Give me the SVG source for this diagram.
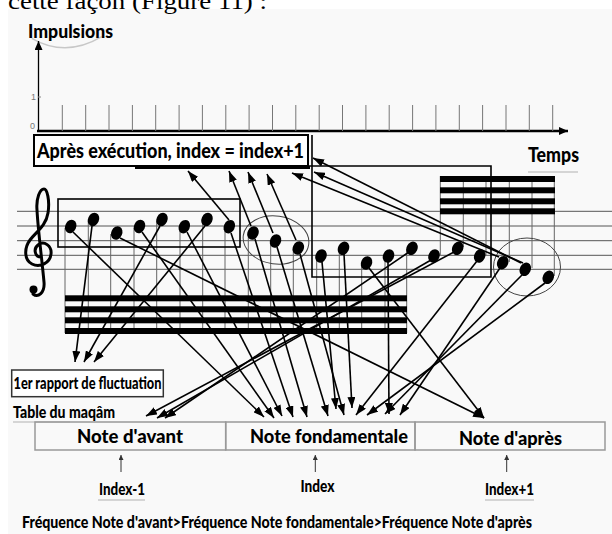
<svg xmlns="http://www.w3.org/2000/svg" width="612" height="534" viewBox="0 0 612 534">
<style>
.t{font-family:Lato,"Open Sans","Liberation Sans",sans-serif;font-weight:900;fill:#000}
.ax{stroke:#000;fill:none}
.tick{stroke:#777;stroke-width:1;fill:none}
.staff{stroke:#555;stroke-width:1;fill:none}
.stem{stroke:#666;stroke-width:1;fill:none}
.beam{fill:#000}
.box{fill:none;stroke:#000;stroke-width:1.6}
.cell{fill:none;stroke:#999;stroke-width:1.5}
.ell{fill:none;stroke:#444;stroke-width:1}
.nh{fill:#000}
.con line{stroke:#000;stroke-width:1.6;marker-end:url(#ah)}
.sm{stroke:#333;stroke-width:1;marker-end:url(#ahs)}
.ul{stroke:#c8c8c8;stroke-width:1.5;fill:none}
</style>
<defs>
<marker id="ah" markerWidth="11" markerHeight="8" refX="11" refY="4" orient="auto" markerUnits="userSpaceOnUse"><path d="M0,0 L11,4 L0,8 z" fill="#000"/></marker>
<marker id="ahs" markerWidth="5" markerHeight="5" refX="5" refY="2.5" orient="auto" markerUnits="userSpaceOnUse"><path d="M0,0 L5,2.5 L0,5 z" fill="#333"/></marker>
<marker id="aax" markerWidth="9" markerHeight="8" refX="9" refY="4" orient="auto" markerUnits="userSpaceOnUse"><path d="M0,0 L9,4 L0,8 z" fill="#000"/></marker>
</defs>
<rect x="0" y="0" width="612" height="534" fill="#fff"/>
<rect x="8" y="9" width="604" height="525" fill="#f9f9f9"/>

<g id="caption-top">
<text x="8" y="9" font-family="'Liberation Serif',serif" font-size="24" textLength="259" lengthAdjust="spacingAndGlyphs">cette façon (Figure 11) :</text>
</g>

<g id="axes">
<path class="ul" d="M31.7 38.3 Q66 58 101.7 36.7" stroke="#bbb"/>
<text class="t" x="28" y="38" font-size="18" textLength="85" lengthAdjust="spacingAndGlyphs">Impulsions</text>
<line class="ax" x1="38.5" y1="131" x2="38.5" y2="41" stroke-width="1.3" marker-end="url(#aax)"/>
<line class="ax" x1="37" y1="131" x2="568" y2="131" stroke-width="2.5" marker-end="url(#aax)"/>
<line x1="38" y1="97" x2="41" y2="97" stroke="#888"/>
<text x="31" y="100" font-family="'Liberation Sans',sans-serif" font-size="9" fill="#777">1</text>
<text x="30" y="129" font-family="'Liberation Sans',sans-serif" font-size="9" fill="#777">0</text>
<path class="tick" d="M62.3 105V131M85.7 105V131M109 105V131M132.4 105V131M155.7 105V131M179.1 105V131M202.4 105V131M225.8 105V131M249.1 105V131M272.5 105V131M295.8 105V131M319.2 105V131M342.5 105V131M365.9 105V131M389.2 105V131M412.6 105V131M435.9 105V131M459.3 105V131M482.6 105V131M506 105V131M529.3 105V131M552.7 105V131"/>
<text class="t" x="528" y="162" font-size="20" textLength="51" lengthAdjust="spacingAndGlyphs">Temps</text>
<line class="ul" x1="528" y1="172" x2="578" y2="172"/>
</g>

<g id="staff">
<path class="staff" d="M17 211.3H612M17 226H612M17 240.7H612M17 255.3H612M17 269.3H612"/>
<g id="clef">
<path d="M41 257C35 257 33 249 38 245C44 240 52 246 51 254C50 263 40 268 32 264C24 260 24 248 30 240C36 232 46 226 48 213C50 200 47 189 44 189C40 189 36 198 37 210C38 230 42 260 44 282C45 293 38 298 33 294" fill="none" stroke="#000" stroke-width="3" stroke-linecap="round"/>
<circle cx="33.5" cy="289.5" r="4" fill="#000"/>
</g>
</g>

<g id="stems">
<path class="stem" d="M65 228V333M88.3 221V333M110.7 234V333M134 228V333M156.7 221V333M180 228V333M202.7 221V333M225 228V333M248.3 234V333M270.7 242V333M293.3 249V333M316.7 257V333M339.3 249V333M361.7 264V333M385 257V333M406.7 249V333M440.3 255V176M463.3 247V176M486 255V176M509.3 262V176M532 268V176M554.3 276V176"/>
</g>

<g id="beams-low">
<rect class="beam" x="65" y="295.3" width="342" height="6"/>
<rect class="beam" x="65" y="306.3" width="342" height="6"/>
<rect class="beam" x="65" y="317.3" width="342" height="6"/>
<rect class="beam" x="65" y="328" width="342" height="6"/>
</g>
<g id="beams-high">
<rect class="beam" x="440" y="176" width="115" height="6"/>
<rect class="beam" x="440" y="187.3" width="115" height="6"/>
<rect class="beam" x="440" y="198.3" width="115" height="6"/>
<rect class="beam" x="440" y="208.3" width="115" height="6"/>
</g>

<g id="group1-box"><rect class="box" x="58" y="199" width="182" height="48"/></g>
<g id="group-ellipse1"><ellipse class="ell" cx="276" cy="240" rx="33" ry="24" transform="rotate(8 276 240)"/></g>
<g id="group2-box"><path class="box" d="M312 135V277H491V166H308" stroke-width="2"/></g>
<g id="group-ellipse2"><ellipse class="ell" cx="527" cy="267" rx="33.5" ry="29"/></g>

<g id="apres-box">
<rect x="34" y="135" width="274" height="31" fill="#fff" stroke="#000" stroke-width="2"/>
<line x1="135" y1="167.5" x2="310" y2="167.5" stroke="#000" stroke-width="3"/>
<text class="t" x="37" y="158" font-size="21" textLength="267" lengthAdjust="spacingAndGlyphs">Après exécution, index = index+1</text>
</g>

<g id="rapport-box">
<rect x="11.7" y="370" width="151.6" height="26.7" fill="#fff" stroke="#333" stroke-width="1.5"/>
<text class="t" x="13.5" y="388.5" font-size="16" textLength="148" lengthAdjust="spacingAndGlyphs">1er rapport de fluctuation</text>
</g>

<g id="table">
<text class="t" x="13" y="418" font-size="16" textLength="102" lengthAdjust="spacingAndGlyphs">Table du maqâm</text>
<line class="ul" x1="13" y1="422" x2="70" y2="422"/>
<g id="cell-avant">
<rect class="cell" x="35" y="422" width="190.7" height="28"/>
<text class="t" x="77" y="443" font-size="19" textLength="106" lengthAdjust="spacingAndGlyphs">Note d'avant</text>
</g>
<g id="cell-fondamentale">
<rect class="cell" x="225.7" y="422" width="189.3" height="28"/>
<text class="t" x="250" y="443" font-size="19" textLength="158" lengthAdjust="spacingAndGlyphs">Note fondamentale</text>
</g>
<g id="cell-apres">
<rect class="cell" x="415" y="422" width="190" height="28"/>
<text class="t" x="459" y="445" font-size="19" textLength="103" lengthAdjust="spacingAndGlyphs">Note d'après</text>
</g>
</g>

<g id="index-labels">
<line class="sm" x1="121" y1="472" x2="121" y2="455"/>
<line class="sm" x1="315.3" y1="472" x2="315.3" y2="455"/>
<line class="sm" x1="506.7" y1="472" x2="506.7" y2="455"/>
<text class="t" x="99" y="495" font-size="16" textLength="46" lengthAdjust="spacingAndGlyphs">Index-1</text>
<text class="t" x="300.5" y="492" font-size="16" textLength="34" lengthAdjust="spacingAndGlyphs">Index</text>
<text class="t" x="485" y="495" font-size="16" textLength="49" lengthAdjust="spacingAndGlyphs">Index+1</text>
<line class="ul" x1="98" y1="500" x2="145" y2="500"/>
<line class="ul" x1="485" y1="500" x2="534" y2="500"/>
</g>

<g id="caption-bottom">
<text class="t" x="22" y="528" font-size="16" textLength="510" lengthAdjust="spacingAndGlyphs">Fréquence Note d'avant&gt;Fréquence Note fondamentale&gt;Fréquence Note d'après</text>
</g>

<g id="connectors" class="con">
<line x1="229" y1="220" x2="188" y2="171"/>
<line x1="251" y1="226" x2="229" y2="171"/>
<line x1="273" y1="233" x2="248" y2="172"/>
<line x1="296" y1="240" x2="267" y2="174"/>
<line x1="499" y1="257" x2="292" y2="173"/>
<line x1="521" y1="263" x2="313" y2="158"/>
<line x1="523" y1="263" x2="314" y2="172"/>
<line x1="73" y1="232" x2="264" y2="417"/>
<line x1="92" y1="226" x2="75" y2="362"/>
<line x1="120" y1="238" x2="484" y2="418"/>
<line x1="142" y1="232" x2="274" y2="418"/>
<line x1="160" y1="226" x2="84" y2="362"/>
<line x1="187" y1="232" x2="282" y2="416"/>
<line x1="205" y1="226" x2="94" y2="362"/>
<line x1="231" y1="233" x2="293" y2="417"/>
<line x1="255" y1="239" x2="307" y2="417"/>
<line x1="277" y1="247" x2="328" y2="416"/>
<line x1="300" y1="254" x2="344" y2="415"/>
<line x1="322" y1="262" x2="336" y2="409"/>
<line x1="344" y1="254" x2="352" y2="408"/>
<line x1="369" y1="268" x2="484" y2="418"/>
<line x1="388" y1="262" x2="389" y2="414"/>
<line x1="409" y1="252" x2="165" y2="418"/>
<line x1="431" y1="260" x2="157" y2="418"/>
<line x1="454" y1="252" x2="146" y2="416"/>
<line x1="477" y1="261" x2="356" y2="415"/>
<line x1="500" y1="268" x2="400" y2="415"/>
<line x1="522" y1="275" x2="385" y2="414"/>
<line x1="545" y1="283" x2="367" y2="415"/>
</g>

<g id="notes">
<g id="note1"><ellipse class="nh" cx="70.7" cy="226.5" rx="5.5" ry="7" transform="rotate(25 70.7 226.5)"/></g>
<g id="note2"><ellipse class="nh" cx="93.5" cy="219.5" rx="5.5" ry="7" transform="rotate(25 93.5 219.5)"/></g>
<g id="note3"><ellipse class="nh" cx="116.7" cy="233" rx="5.5" ry="7" transform="rotate(25 116.7 233)"/></g>
<g id="note4"><ellipse class="nh" cx="139.5" cy="226.5" rx="5.5" ry="7" transform="rotate(25 139.5 226.5)"/></g>
<g id="note5"><ellipse class="nh" cx="162" cy="219.5" rx="5.5" ry="7" transform="rotate(25 162 219.5)"/></g>
<g id="note6"><ellipse class="nh" cx="184.3" cy="226.7" rx="5.5" ry="7" transform="rotate(25 184.3 226.7)"/></g>
<g id="note7"><ellipse class="nh" cx="207" cy="219.5" rx="5.5" ry="7" transform="rotate(25 207 219.5)"/></g>
<g id="note8"><ellipse class="nh" cx="229.3" cy="226.7" rx="5.5" ry="7" transform="rotate(25 229.3 226.7)"/></g>
<g id="note9"><ellipse class="nh" cx="253" cy="233" rx="5.5" ry="7" transform="rotate(25 253 233)"/></g>
<g id="note10"><ellipse class="nh" cx="275.5" cy="241" rx="5.5" ry="7" transform="rotate(25 275.5 241)"/></g>
<g id="note11"><ellipse class="nh" cx="298.3" cy="248" rx="5.5" ry="7" transform="rotate(25 298.3 248)"/></g>
<g id="note12"><ellipse class="nh" cx="321" cy="256" rx="5.5" ry="7" transform="rotate(25 321 256)"/></g>
<g id="note13"><ellipse class="nh" cx="343.5" cy="248.3" rx="5.5" ry="7" transform="rotate(25 343.5 248.3)"/></g>
<g id="note14"><ellipse class="nh" cx="366.5" cy="263" rx="5.5" ry="7" transform="rotate(25 366.5 263)"/></g>
<g id="note15"><ellipse class="nh" cx="388.5" cy="256" rx="5.5" ry="7" transform="rotate(25 388.5 256)"/></g>
<g id="note16"><ellipse class="nh" cx="412" cy="248.3" rx="5.5" ry="7" transform="rotate(25 412 248.3)"/></g>
<g id="note17"><ellipse class="nh" cx="434" cy="256" rx="5.5" ry="7" transform="rotate(25 434 256)"/></g>
<g id="note18"><ellipse class="nh" cx="457.7" cy="248.3" rx="5.5" ry="7" transform="rotate(25 457.7 248.3)"/></g>
<g id="note19"><ellipse class="nh" cx="479.7" cy="256" rx="5.5" ry="7" transform="rotate(25 479.7 256)"/></g>
<g id="note20"><ellipse class="nh" cx="502.7" cy="262.7" rx="5.5" ry="7" transform="rotate(25 502.7 262.7)"/></g>
<g id="note21"><ellipse class="nh" cx="525.3" cy="269.3" rx="5.5" ry="7" transform="rotate(25 525.3 269.3)"/></g>
<g id="note22"><ellipse class="nh" cx="548.3" cy="277.3" rx="5.5" ry="7" transform="rotate(25 548.3 277.3)"/></g>
</g>
</svg>
